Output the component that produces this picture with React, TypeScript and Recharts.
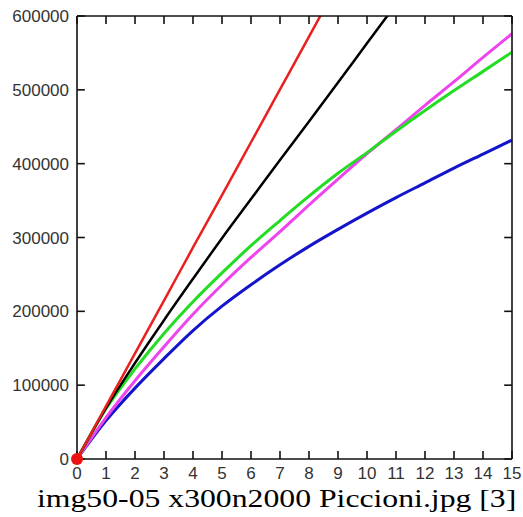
import React from "react";
import { LineChart, Line, XAxis, YAxis, ReferenceDot, ReferenceLine } from "recharts";

// x positions (0..15) and the five curves
const xs = [0, 1, 2, 3, 4, 5, 6, 7, 8, 9, 10, 11, 12, 13, 14, 15];
const red = [0, 71500, 143000, 214500, 286500, 357500, 429000, 500500, 572000, 644000, null, null, null, null, null, null];
const black = [0, 69000, 130000, 188000, 244000, 299000, 352000, 405000, 457000, 510000, 563000, 616000, null, null, null, null];
const green = [0, 68000, 122000, 170000, 213000, 252000, 289000, 323000, 356000, 387000, 415000, 444000, 472000, 499000, 525000, 551000];
const magenta = [0, 56000, 106000, 152000, 196000, 236000, 273000, 308000, 344000, 379000, 413500, 446000, 479000, 511000, 544000, 576000];
const blue = [0, 52000, 96000, 136000, 174000, 207000, 236000, 263000, 288000, 311000, 333000, 354000, 374000, 394000, 413000, 432000];

const xTicks = [0, 1, 2, 3, 4, 5, 6, 7, 8, 9, 10, 11, 12, 13, 14, 15];
const yTicks = [0, 100000, 200000, 300000, 400000, 500000, 600000];

const caption = "img50-05 x300n2000 Piccioni.jpg [3]";

const data = xs.map((x, i) => ({
  x,
  red: red[i],
  black: black[i],
  green: green[i],
  magenta: magenta[i],
  blue: blue[i],
}));

const X_MAX = 15;
const Y_MAX = 600000;
// inward tick length, in axis units (about 8px each way)
const X_TICK_LEN = 0.27;
const Y_TICK_LEN = 10800;

const FONT = "'Liberation Sans', Arial, sans-serif";
const frame = { stroke: "#111", strokeWidth: 1.6 };
const GAP = 8;

const BottomLabel = (p: any) => (
  <text x={p.x} y={p.y} dy="0.71em" textAnchor="middle" fontFamily={FONT} fontSize={17} fill="#333">
    {p.payload.value}
  </text>
);
const LeftLabel = (p: any) => (
  <text x={p.x} y={p.y} dy="0.355em" textAnchor="end" fontFamily={FONT} fontSize={17} fill="#333">
    {p.payload.value}
  </text>
);

export default function App() {
  return (
    <div style={{ position: "absolute", left: 0, top: 0, width: 523, height: 517, background: "#fff" }}>
      <LineChart
        width={523}
        height={517}
        data={data}
        margin={{ top: 15, right: 10, bottom: 28, left: 0 }}
      >
        <XAxis
          dataKey="x"
          type="number"
          domain={[0, X_MAX]}
          ticks={xTicks}
          interval={0}
          height={30}
          tickSize={0}
          tickMargin={GAP}
          tick={BottomLabel}
          axisLine={frame}
          tickLine={false}
        />
        <XAxis
          xAxisId="t"
          orientation="top"
          dataKey="x"
          type="number"
          domain={[0, X_MAX]}
          height={1}
          tick={false}
          axisLine={frame}
          tickLine={false}
        />
        <YAxis
          type="number"
          domain={[0, Y_MAX]}
          ticks={yTicks}
          interval={0}
          allowDataOverflow
          width={77}
          tickSize={0}
          tickMargin={GAP}
          tick={LeftLabel}
          axisLine={frame}
          tickLine={false}
        />
        <YAxis
          yAxisId="r"
          orientation="right"
          type="number"
          domain={[0, Y_MAX]}
          width={1}
          tick={false}
          axisLine={frame}
          tickLine={false}
        />

        {/* inward tick marks on all four sides of the frame */}
        {xTicks.map((t) => (
          <ReferenceLine key={`xb${t}`} segment={[{ x: t, y: 0 }, { x: t, y: Y_TICK_LEN }]} {...frame} />
        ))}
        {xTicks.map((t) => (
          <ReferenceLine key={`xt${t}`} segment={[{ x: t, y: Y_MAX - Y_TICK_LEN }, { x: t, y: Y_MAX }]} {...frame} />
        ))}
        {yTicks.map((t) => (
          <ReferenceLine key={`yl${t}`} segment={[{ x: 0, y: t }, { x: X_TICK_LEN, y: t }]} {...frame} />
        ))}
        {yTicks.map((t) => (
          <ReferenceLine key={`yr${t}`} segment={[{ x: X_MAX - X_TICK_LEN, y: t }, { x: X_MAX, y: t }]} {...frame} />
        ))}

        <Line dataKey="blue" type="monotone" stroke="#1414cc" strokeWidth={3} dot={false} isAnimationActive={false} />
        <Line dataKey="magenta" type="monotone" stroke="#ee44ee" strokeWidth={3} dot={false} isAnimationActive={false} />
        <Line dataKey="green" type="monotone" stroke="#22dd22" strokeWidth={3} dot={false} isAnimationActive={false} />
        <Line dataKey="black" type="monotone" stroke="#000" strokeWidth={2.5} dot={false} isAnimationActive={false} />
        <Line dataKey="red" type="monotone" stroke="#e82020" strokeWidth={2.5} dot={false} isAnimationActive={false} />
        <ReferenceDot x={0} y={0} r={6} fill="#ee1111" stroke="none" />
      </LineChart>
      <div
        style={{
          position: "absolute",
          left: 37,
          top: 486,
          fontFamily: "'Liberation Serif', 'Times New Roman', serif",
          fontSize: 26,
          lineHeight: "26px",
          whiteSpace: "nowrap",
          color: "#000",
          transform: "scaleX(1.22)",
          transformOrigin: "left top",
        }}
      >
        {caption}
      </div>
    </div>
  );
}
